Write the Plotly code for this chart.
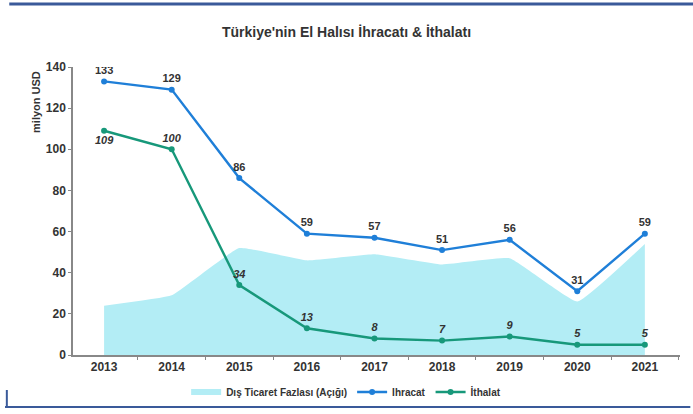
import plotly.graph_objects as go

years = ["2013", "2014", "2015", "2016", "2017", "2018", "2019", "2020", "2021"]
ihracat = [133, 129, 86, 59, 57, 51, 56, 31, 59]
ithalat = [109, 100, 34, 13, 8, 7, 9, 5, 5]
fazla = [e - i for e, i in zip(ihracat, ithalat)]
y_ticks = [0, 20, 40, 60, 80, 100, 120, 140]

FONT = "Liberation Sans"
BLUE = "#1f7fd8"
GREEN = "#17987a"
AREA = "#b3edf5"
TXT = "#333333"

imp_pos = ["bottom center"] + ["top center"] * (len(years) - 1)

fig = go.Figure()
fig.add_trace(go.Scatter(
    x=years, y=fazla, name="Dış Ticaret Fazlası (Açığı)", mode="none",
    fill="tozeroy", fillcolor=AREA, line=dict(shape="spline", smoothing=0.3),
))
fig.add_trace(go.Scatter(
    x=years, y=ihracat, name="Ihracat", mode="lines+markers+text",
    line=dict(color=BLUE, width=2.4), marker=dict(color=BLUE, size=6),
    text=[str(v) for v in ihracat], textposition="top center",
    textfont=dict(family=FONT, size=11, color=TXT, weight="bold"),
))
fig.add_trace(go.Scatter(
    x=years, y=ithalat, name="İthalat", mode="lines+markers+text",
    line=dict(color=GREEN, width=2.4), marker=dict(color=GREEN, size=6),
    text=[str(v) for v in ithalat], textposition=imp_pos,
    textfont=dict(family=FONT, size=11, color=TXT, weight="bold", style="italic"),
))

fig.update_layout(
    width=693, height=414,
    margin=dict(l=73, r=13, t=67, b=59, autoexpand=False),
    paper_bgcolor="white", plot_bgcolor="white",
    font=dict(family=FONT, size=11, color=TXT),
    title=dict(text="<b>Türkiye'nin El Halısı İhracatı & İthalatı</b>",
               x=0.5, xanchor="center", yref="container", y=1 - 32 / 414, yanchor="middle",
               font=dict(family=FONT, size=14, color=TXT)),
    showlegend=True,
    legend=dict(orientation="h", x=0.45, xanchor="center",
                yref="container", y=1 - 392 / 414, yanchor="middle",
                bgcolor="rgba(0,0,0,0)",
                font=dict(family=FONT, size=10, color=TXT, weight="bold"),
                itemwidth=30, tracegroupgap=0),
    xaxis=dict(type="category", range=[-0.46, 8.52], showgrid=False,
               showline=True, linecolor="#888888", linewidth=1.5,
               ticks="outside", ticklen=3, tickcolor="#888888", tickson="boundaries",
               tickfont=dict(family=FONT, size=12, color=TXT, weight="bold")),
    yaxis=dict(range=[0, 140], tickvals=y_ticks, showgrid=False, zeroline=False,
               showline=True, linecolor="#888888", linewidth=1.5,
               ticks="outside", ticklen=3, tickcolor="#888888",
               tickfont=dict(family=FONT, size=12, color=TXT, weight="bold")),
    shapes=[
        dict(type="line", xref="paper", yref="paper", x0=-0.105, x1=1.03,
             y0=(414 - 59 - 4) / 288, y1=(414 - 59 - 4) / 288,
             line=dict(color="#3a5a9a", width=3)),
        dict(type="line", xref="paper", yref="paper", x0=-0.112, x1=1.017,
             y0=-(407 - 355) / 288, y1=-(407 - 355) / 288,
             line=dict(color="#3a5a9a", width=2)),
        dict(type="line", xref="paper", yref="paper", x0=-0.109, x1=-0.109,
             y0=-(407 - 355) / 288, y1=-(390 - 355) / 288,
             line=dict(color="#3a5a9a", width=2)),
    ],
    annotations=[
        dict(text="<b>milyon USD</b>", xref="paper", yref="paper", x=-0.062, y=0.88,
             textangle=-90, showarrow=False, xanchor="center", yanchor="middle",
             font=dict(family=FONT, size=11, color=TXT)),
    ],
)

fig.write_html("out.html", config={"displayModeBar": False},
               post_script="document.body.style.margin='0';")
